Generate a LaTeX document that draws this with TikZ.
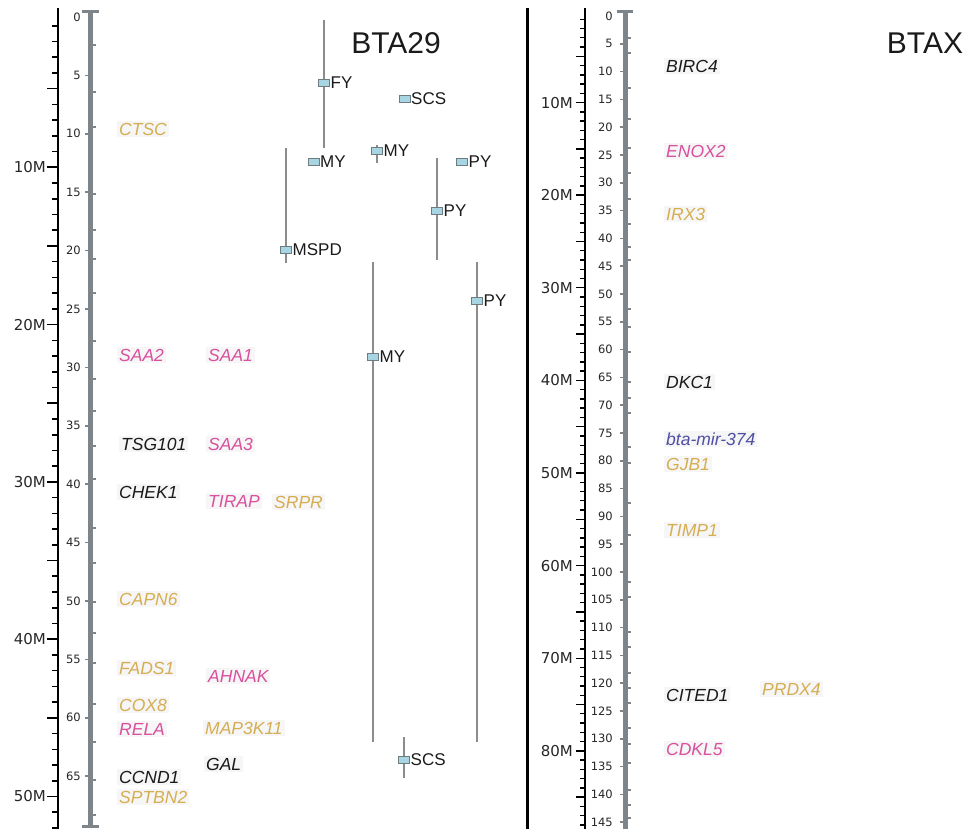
\documentclass[tikz,border=0pt]{standalone}
\usepackage{fontspec}
\setmainfont{Liberation Sans}
\newfontfamily\axisfont{DejaVu Sans}
\definecolor{gold}{HTML}{D6AE52}
\definecolor{pinkg}{HTML}{D9509E}
\definecolor{blueg}{HTML}{4F4FA6}
\definecolor{blackg}{HTML}{1A1A1A}
\definecolor{cmaxis}{HTML}{7D858A}
\definecolor{qtlline}{HTML}{8C8C8C}
\definecolor{qtlfill}{HTML}{A8D5E2}
\definecolor{qtledge}{HTML}{6E7B80}
\definecolor{halo}{HTML}{F6F6F6}
\begin{document}
\begin{tikzpicture}[x=1pt,y=-1pt,
  mbpline/.style={line width=2.5pt,black},
  mbptick/.style={line width=1.6pt,black},
  mlab/.style={font=\axisfont\fontsize{15}{15}\selectfont,anchor=east,inner sep=0pt,text=black!85},
  cmline/.style={line width=5pt,cmaxis},
  cmtick/.style={line width=1.5pt,cmaxis},
  clab/.style={font=\axisfont\fontsize{11.5}{11.5}\selectfont,anchor=east,inner sep=0pt,text=black!85},
  gene/.style={font=\fontsize{17.5}{17.5}\selectfont\itshape,anchor=west,inner sep=2pt,fill=halo},
  title/.style={font=\fontsize{30}{30}\selectfont,inner sep=0pt,text=blackg},
  qline/.style={line width=2pt,qtlline},
  qbox/.style={draw=qtledge,line width=1pt,fill=qtlfill,minimum width=11pt,minimum height=7pt,inner sep=0pt},
  qlab/.style={font=\fontsize{17}{17}\selectfont,anchor=west,inner sep=0.5pt,text=blackg},
]
\useasboundingbox (0,0) rectangle (970,829);

% ---------------- separator
\coordinate (sepT) at (527,8);
\coordinate (sepB) at (527,829);
\draw[line width=3pt,black] (sepT) -- (sepB);

% ---------------- left Mbp axis
\coordinate (lmT) at (58,8);
\coordinate (lmB) at (58,829);
\draw[mbpline] (lmT) -- (lmB);
\foreach \m in {1,...,52}{
  \pgfmathsetmacro\yy{10+15.73*\m}
  \pgfmathsetmacro\len{mod(\m,5)==0 ? 11 : 6}
  \draw[mbptick] (58-\len,\yy) -- (58,\yy);
}
\foreach \m in {1,...,5}{
  \node[mlab] (lmlab\m) at (46,{10+157.3*\m}) {\m0M};
}

% ---------------- left cM axis
\coordinate (lcT) at (90,12);
\coordinate (lcB) at (90,826);
\draw[cmline] (lcT) -- (lcB);
\draw[line width=3pt,cmaxis] (82,12) -- (99,12);
\draw[line width=3pt,cmaxis] (82,826) -- (99,826);
\foreach \c in {0,5,...,65}{
  \node[clab] (lclab\c) at (81,{17+11.68*\c}) {\c};
  \ifnum\c>0 \draw[cmtick] (85,{17+11.68*\c}) -- (90,{17+11.68*\c}); \fi
}
\foreach \yy in {45,92,127,194,230,259,293,341,379,411,446,479,528,563,602,633,663,704,742,780,815}{
  \draw[cmtick] (90,\yy) -- (96,\yy);
}

% ---------------- right Mbp axis
\coordinate (rmT) at (585,8);
\coordinate (rmB) at (585,829);
\draw[mbpline] (rmT) -- (rmB);
\foreach \m in {1,...,88}{
  \pgfmathsetmacro\yy{10+9.26*\m}
  \pgfmathsetmacro\len{mod(\m,5)==0 ? 9 : 5}
  \draw[line width=1.4pt,black] (585-\len,\yy) -- (585,\yy);
}
\foreach \m in {1,...,8}{
  \node[mlab] (rmlab\m) at (573,{10+92.6*\m}) {\m0M};
}

% ---------------- right cM axis
\coordinate (rcT) at (625,12);
\coordinate (rcB) at (625,829);
\draw[cmline] (rcT) -- (rcB);
\draw[line width=3pt,cmaxis] (617,12) -- (633,12);
\foreach \c in {0,5,...,145}{
  \node[clab] (rclab\c) at (613,{16+5.56*\c}) {\c};
  \ifnum\c>0 \draw[cmtick] (620,{16+5.56*\c}) -- (625,{16+5.56*\c}); \fi
}
\foreach \yy in {38,53,88,119,148,173,199,224,247,260,309,327,352,382,398,413,447,463,503,535,582,597,632,647,673,688,703,728,744,763,790,805,818}{
  \draw[cmtick] (625,\yy) -- (631,\yy);
}

% ---------------- titles
\node[title] (t29) at (396,43) {BTA29};
\node[title] (tX) at (925,43) {BTAX};

% ---------------- left genes
\node[gene,text=gold]   (CTSC)   at (117,129) {CTSC};
\node[gene,text=pinkg]  (SAA2)   at (117,355) {SAA2};
\node[gene,text=pinkg]  (SAA1)   at (206,355) {SAA1};
\node[gene,text=blackg] (TSG101) at (119,444) {TSG101};
\node[gene,text=pinkg]  (SAA3)   at (206,444) {SAA3};
\node[gene,text=blackg] (CHEK1)  at (117,492) {CHEK1};
\node[gene,text=pinkg]  (TIRAP)  at (206,501) {TIRAP};
\node[gene,text=gold]   (SRPR)   at (272,502) {SRPR};
\node[gene,text=gold]   (CAPN6)  at (117,599) {CAPN6};
\node[gene,text=gold]   (FADS1)  at (117,668) {FADS1};
\node[gene,text=pinkg]  (AHNAK)  at (206,676) {AHNAK};
\node[gene,text=gold]   (COX8)   at (117,705) {COX8};
\node[gene,text=gold]   (MAP3K11) at (203,728) {MAP3K11};
\node[gene,text=pinkg]  (RELA)   at (117,729) {RELA};
\node[gene,text=blackg] (GAL)    at (204,764) {GAL};
\node[gene,text=blackg] (CCND1)  at (117,777) {CCND1};
\node[gene,text=gold]   (SPTBN2) at (117,797) {SPTBN2};

% ---------------- right genes
\node[gene,text=blackg] (BIRC4)  at (664,66)  {BIRC4};
\node[gene,text=pinkg]  (ENOX2)  at (664,151) {ENOX2};
\node[gene,text=gold]   (IRX3)   at (664,214) {IRX3};
\node[gene,text=blackg] (DKC1)   at (664,382) {DKC1};
\node[gene,text=blueg]  (mir374) at (664,439) {bta-mir-374};
\node[gene,text=gold]   (GJB1)   at (664,464) {GJB1};
\node[gene,text=gold]   (TIMP1)  at (664,530) {TIMP1};
\node[gene,text=blackg] (CITED1) at (664,695) {CITED1};
\node[gene,text=gold]   (PRDX4)  at (760,689) {PRDX4};
\node[gene,text=pinkg]  (CDKL5)  at (664,749) {CDKL5};

% ---------------- QTL intervals
\coordinate (fyT) at (324,20);   \coordinate (fyB) at (324,148);
\coordinate (my2T) at (377,145); \coordinate (my2B) at (377,163);
\coordinate (py2T) at (437,158); \coordinate (py2B) at (437,260);
\coordinate (msT) at (286,148);  \coordinate (msB) at (286,263);
\coordinate (my3T) at (373,262); \coordinate (my3B) at (373,742);
\coordinate (py3T) at (477,262); \coordinate (py3B) at (477,742);
\coordinate (scT) at (404,737);  \coordinate (scB) at (404,778);
\draw[qline] (fyT) -- (fyB);
\draw[qline] (my2T) -- (my2B);
\draw[qline] (py2T) -- (py2B);
\draw[qline] (msT) -- (msB);
\draw[qline] (my3T) -- (my3B);
\draw[qline] (py3T) -- (py3B);
\draw[qline] (scT) -- (scB);

\node[qbox] (bFY) at (324,83) {};     \node[qlab] (lFY) at (bFY.east) {FY};
\node[qbox] (bSC1) at (404.5,99) {};  \node[qlab] (lSC1) at (bSC1.east) {SCS};
\node[qbox] (bMY1) at (313.5,162) {}; \node[qlab] (lMY1) at (bMY1.east) {MY};
\node[qbox] (bMY2) at (377,151) {};   \node[qlab] (lMY2) at (bMY2.east) {MY};
\node[qbox] (bPY1) at (462,162) {};   \node[qlab] (lPY1) at (bPY1.east) {PY};
\node[qbox] (bPY2) at (437,211) {};   \node[qlab] (lPY2) at (bPY2.east) {PY};
\node[qbox] (bMS) at (286,250) {};    \node[qlab] (lMS) at (bMS.east) {MSPD};
\node[qbox] (bMY3) at (373,357) {};   \node[qlab] (lMY3) at (bMY3.east) {MY};
\node[qbox] (bPY3) at (477,301) {};   \node[qlab] (lPY3) at (bPY3.east) {PY};
\node[qbox] (bSC2) at (404,760) {};   \node[qlab] (lSC2) at (bSC2.east) {SCS};
\end{tikzpicture}
\end{document}
